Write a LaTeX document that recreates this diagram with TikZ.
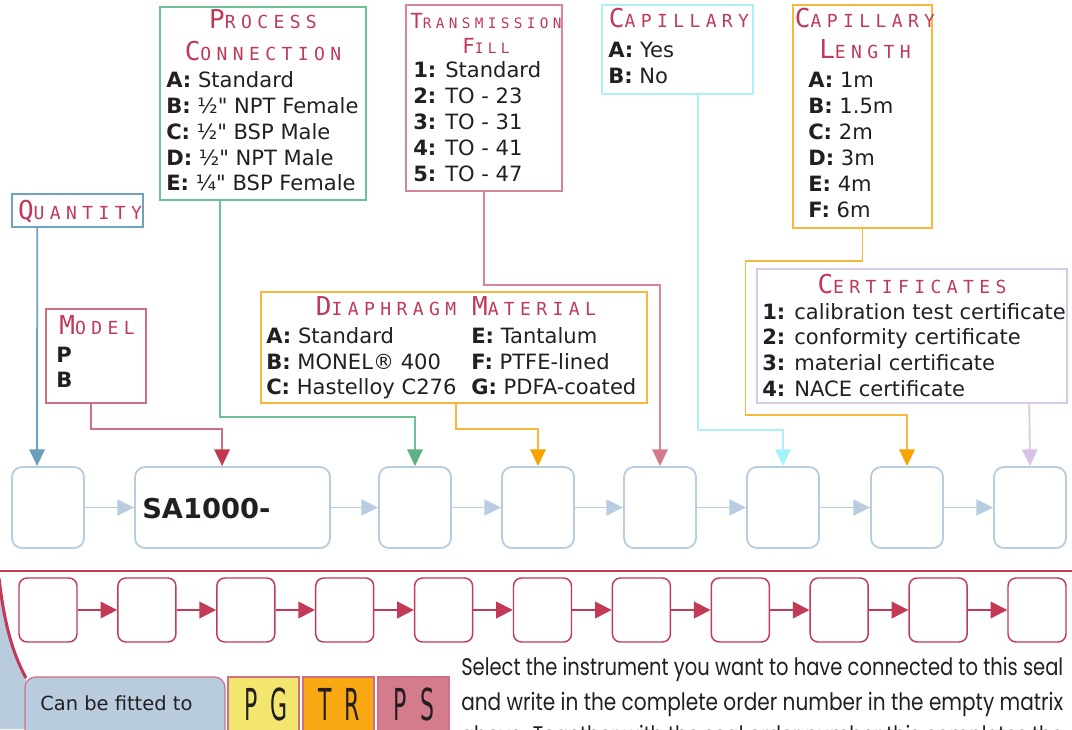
\documentclass[tikz,border=0pt]{standalone}
\usepackage{fontspec}
\usepackage{graphicx}
\usetikzlibrary{arrows.meta,fit,calc}
\setmainfont{DejaVu Sans}[Ligatures=TeXOff]
\newfontfamily\ttlfont[LetterSpace=30]{DejaVu Sans Mono}
\newfontfamily\geofont{Poppins}
\definecolor{ink}{RGB}{35,31,32}
\definecolor{ttl}{RGB}{192,57,88}
\definecolor{boxblue}{RGB}{185,205,224}
\definecolor{qline}{RGB}{111,163,191}
\definecolor{qtip}{RGB}{106,159,187}
\definecolor{mline}{RGB}{208,111,130}
\definecolor{mtip}{RGB}{192,56,79}
\definecolor{pline}{RGB}{109,193,150}
\definecolor{ptip}{RGB}{95,176,131}
\definecolor{tline}{RGB}{218,133,149}
\definecolor{ttip}{RGB}{212,121,138}
\definecolor{cline}{RGB}{174,240,246}
\definecolor{ctip}{RGB}{166,242,250}
\definecolor{oline}{RGB}{249,183,61}
\definecolor{otip}{RGB}{247,163,0}
\definecolor{vline}{RGB}{217,201,226}
\definecolor{vtip}{RGB}{216,195,229}
\definecolor{crim}{RGB}{194,58,85}
\definecolor{capblue}{RGB}{184,204,222}
\definecolor{pgy}{RGB}{242,230,110}
\definecolor{tro}{RGB}{248,168,18}
\definecolor{psp}{RGB}{213,124,140}
\newcommand\bodyfont{\fontsize{15.8}{19}\selectfont}
\newcommand\sct[2]{{\ttlfont\color{ttl}\fontsize{19.5}{24}\selectfont #1\fontsize{13.5}{24}\selectfont #2}}
\newcommand\scts[2]{{\ttlfont\color{ttl}\fontsize{15.6}{20}\selectfont #1\fontsize{10.8}{20}\selectfont #2}}
\tikzset{
  lbox/.style={inner sep=0pt, draw, line width=1.1pt},
  tbox/.style={inner sep=0pt, draw=boxblue, line width=1.4pt, rounded corners=7.5pt},
  rbox/.style={inner sep=0pt, draw=crim, line width=1.1pt, rounded corners=6pt},
  lbl/.style={inner sep=0pt, anchor=base west, font=\bodyfont, text=ink},
  ttlnode/.style={inner sep=0pt, anchor=base},
  conn/.style={line width=1.4pt},
  tip/.style={-{Triangle[length=12.5pt,width=11.5pt,color=#1]}},
  barrow/.style={draw=boxblue, line width=1.4pt, -{Triangle[length=12.5pt,width=12pt]}},
  rarrow/.style={draw=crim, line width=1.4pt, -{Triangle[length=12.5pt,width=12.5pt]}},
  para/.style={inner sep=0pt, anchor=base west, text=ink, font=\geofont\fontsize{18}{22}\selectfont}
}
\begin{document}
\begin{tikzpicture}[x=0.75pt,y=-0.75pt]
\useasboundingbox (0,0) rectangle (1072,729);
\clip (0,0) rectangle (1072,729);

% ---------- label boxes ----------
\node[lbox, draw=qline, fit={(12,194)(143,227)}] (qty) {};
\node[ttlnode] (qtyt) at (80,219) {\sct{Q}{UANTITY}};

\node[lbox, draw=mline, fit={(46,309)(146,403)}] (mod) {};
\node[ttlnode] (modt) at (97,334) {\sct{M}{ODEL}};
\node[lbl] (modp) at (56,362) {\textbf{P}};
\node[lbl] (modb) at (56,387) {\textbf{B}};

\node[lbox, draw=pline, fit={(160,7)(366,200)}] (proc) {};
\node[ttlnode] (proct1) at (263,28) {\sct{P}{ROCESS}};
\node[ttlnode] (proct2) at (263,60) {\sct{C}{ONNECTION}};
\node[lbl] (pc1) at (166,87)  {\textbf{A:} Standard};
\node[lbl] (pc2) at (166,113) {\textbf{B:} ½" NPT Female};
\node[lbl] (pc3) at (166,139) {\textbf{C:} ½" BSP Male};
\node[lbl] (pc4) at (166,165) {\textbf{D:} ½" NPT Male};
\node[lbl] (pc5) at (166,190) {\textbf{E:} ¼" BSP Female};

\node[lbox, draw=tline, fit={(406,5)(562,191)}] (trans) {};
\node[ttlnode] (transt1) at (486,28) {\scts{T}{RANSMISSION}};
\node[ttlnode] (transt2) at (486,53) {\scts{F}{ILL}};
\node[lbl] (tf1) at (413,77)  {\textbf{1:} Standard};
\node[lbl] (tf2) at (413,103) {\textbf{2:} TO - 23};
\node[lbl] (tf3) at (413,129) {\textbf{3:} TO - 31};
\node[lbl] (tf4) at (413,155) {\textbf{4:} TO - 41};
\node[lbl] (tf5) at (413,181) {\textbf{5:} TO - 47};

\node[lbox, draw=cline, fit={(602,5)(753,94)}] (cap) {};
\node[ttlnode] (capt) at (679,27) {\sct{C}{APILLARY}};
\node[lbl] (cp1) at (608,57) {\textbf{A:} Yes};
\node[lbl] (cp2) at (608,83) {\textbf{B:} No};

\node[lbox, draw=oline, fit={(793,5)(932,228)}] (capl) {};
\node[ttlnode] (caplt1) at (865,27) {\sct{C}{APILLARY}};
\node[ttlnode] (caplt2) at (865,58) {\sct{L}{ENGTH}};
\node[lbl] (cl1) at (808,87)  {\textbf{A:} 1m};
\node[lbl] (cl2) at (808,113) {\textbf{B:} 1.5m};
\node[lbl] (cl3) at (808,139) {\textbf{C:} 2m};
\node[lbl] (cl4) at (808,165) {\textbf{D:} 3m};
\node[lbl] (cl5) at (808,191) {\textbf{E:} 4m};
\node[lbl] (cl6) at (808,217) {\textbf{F:} 6m};

\node[lbox, draw=oline, fit={(261,292)(647,403)}] (dia) {};
\node[ttlnode] (diat) at (456,315) {\sct{D}{IAPHRAGM}\hspace{12pt}\sct{M}{ATERIAL}};
\node[lbl] (dm1) at (266,343) {\textbf{A:} Standard};
\node[lbl] (dm2) at (266,369) {\textbf{B:} MONEL® 400};
\node[lbl] (dm3) at (266,394) {\textbf{C:} Hastelloy C276};
\node[lbl] (dm4) at (471,343) {\textbf{E:} Tantalum};
\node[lbl] (dm5) at (471,369) {\textbf{F:} PTFE-lined};
\node[lbl] (dm6) at (471,394) {\textbf{G:} PDFA-coated};

\node[lbox, draw=vline, fit={(757,269)(1067,403)}] (cert) {};
\node[ttlnode] (certt) at (912,293) {\sct{C}{ERTIFICATES}};
\node[lbl] (ce1) at (762,319) {\textbf{1:} calibration test certificate};
\node[lbl] (ce2) at (762,344) {\textbf{2:} conformity certificate};
\node[lbl] (ce3) at (762,370) {\textbf{3:} material certificate};
\node[lbl] (ce4) at (762,396) {\textbf{4:} NACE certificate};

% ---------- top order row ----------
\node[tbox, fit={(12,467)(84,548)}]   (b1) {};
\node[tbox, fit={(135,467)(330,548)}] (b2) {};
\node[tbox, fit={(379,467)(451,548)}] (b3) {};
\node[tbox, fit={(502,467)(574,548)}] (b4) {};
\node[tbox, fit={(624,467)(696,548)}] (b5) {};
\node[tbox, fit={(747,467)(819,548)}] (b6) {};
\node[tbox, fit={(871,467)(943,548)}] (b7) {};
\node[tbox, fit={(994,467)(1066,548)}] (b8) {};
\node[inner sep=0pt, anchor=base west, text=ink, font=\fontsize{20.5}{24}\selectfont\bfseries] (sa) at (142,518) {SA1000-};

\foreach \a/\b in {b1/b2,b2/b3,b3/b4,b4/b5,b5/b6,b6/b7,b7/b8}
  \draw[barrow] (\a.east) -- (\b.west);

% ---------- connectors ----------
\draw[conn, draw=qline, tip=qtip] ($(qty.south west)+(26,0)$) -- ($(b1.north west)+(26,0)$);
\draw[conn, draw=mline, tip=mtip] ($(mod.south west)+(46,0)$) -- ++(0,25) -| ($(b2.north west)+(88,0)$);
\draw[conn, draw=pline, tip=ptip] ($(proc.south west)+(61,0)$) -- ++(0,216) -| (b3.north);
\draw[conn, draw=tline, tip=ttip] (trans.south) -- ++(0,93) -| (b5.north);
\draw[conn, draw=cline, tip=ctip] ($(cap.south west)+(97,0)$) -- ++(0,335) -| (b6.north);
\draw[conn, draw=oline, tip=otip] (capl.south) -- ++(0,32) -| ++(-117,154) -| (b7.north);
\draw[conn, draw=oline, tip=otip] ($(dia.south west)+(196,0)$) -- ++(0,25) -| (b4.north);
\draw[conn, draw=vline, tip=vtip] ($(cert.south west)+(273,0)$) -- (b8.north);

% ---------- divider ----------
\coordinate (dl) at (0,571);
\coordinate (dr) at (1072,571);
\draw[crim, line width=1.5pt] (dl) -- (dr);

% ---------- bottom order row ----------
\foreach \i in {0,...,10}
  \node[rbox, fit={(19+98.9*\i,578)(77+98.9*\i,642)}] (r\i) {};
\foreach \i [evaluate=\i as \j using int(\i+1)] in {0,...,9}
  \draw[rarrow] (r\i.east) -- (r\j.west);

% ---------- bottom-left panel ----------
\fill[capblue] (0,584) .. controls (4,622) and (12,652) .. (26,678) -- (26,729) -- (0,729) -- cycle;
\draw[crim, line width=2.3pt] (-1,578) .. controls (4,622) and (12,652) .. (26,678);
\node[inner sep=0pt, draw=mline, fill=capblue, line width=0.9pt, rounded corners=8pt, fit={(25,677)(225,745)}] (cbf) {};
\node[inner sep=0pt, anchor=base west, text=ink, font=\fontsize{14.6}{18}\selectfont] (cbft) at (40,710) {Can be fitted to};

\node[inner sep=0pt, draw=mline, fill=pgy, line width=0.9pt, fit={(228,677)(299,745)}] (pg) {};
\node[inner sep=0pt, draw=mline, fill=tro, line width=0.9pt, fit={(303,677)(374,745)}] (tr) {};
\node[inner sep=0pt, draw=mline, fill=psp, line width=0.9pt, fit={(378,677)(449,745)}] (ps) {};
\node[inner sep=0pt, anchor=base, text=ink, font=\fontsize{33}{36}\selectfont] (pgt) at (266,720) {\scalebox{0.5}[1]{P\hspace{0.6em}G}};
\node[inner sep=0pt, anchor=base, text=ink, font=\fontsize{33}{36}\selectfont] (trt) at (339,720) {\scalebox{0.5}[1]{T\hspace{0.6em}R}};
\node[inner sep=0pt, anchor=base, text=ink, font=\fontsize{33}{36}\selectfont] (pst) at (414,720) {\scalebox{0.5}[1]{P\hspace{0.6em}S}};

% ---------- paragraph ----------
\node[para] (l1) at (461,675) {\resizebox{451.5pt}{\height}{Select the instrument you want to have connected to this seal}};
\node[para] (l2) at (461,710) {\resizebox{451.5pt}{\height}{and write in the complete order number in the empty matrix}};
\node[para] (l3) at (461,743) {\resizebox{451.5pt}{\height}{above. Together with the seal order number this completes the}};
\end{tikzpicture}
\end{document}
